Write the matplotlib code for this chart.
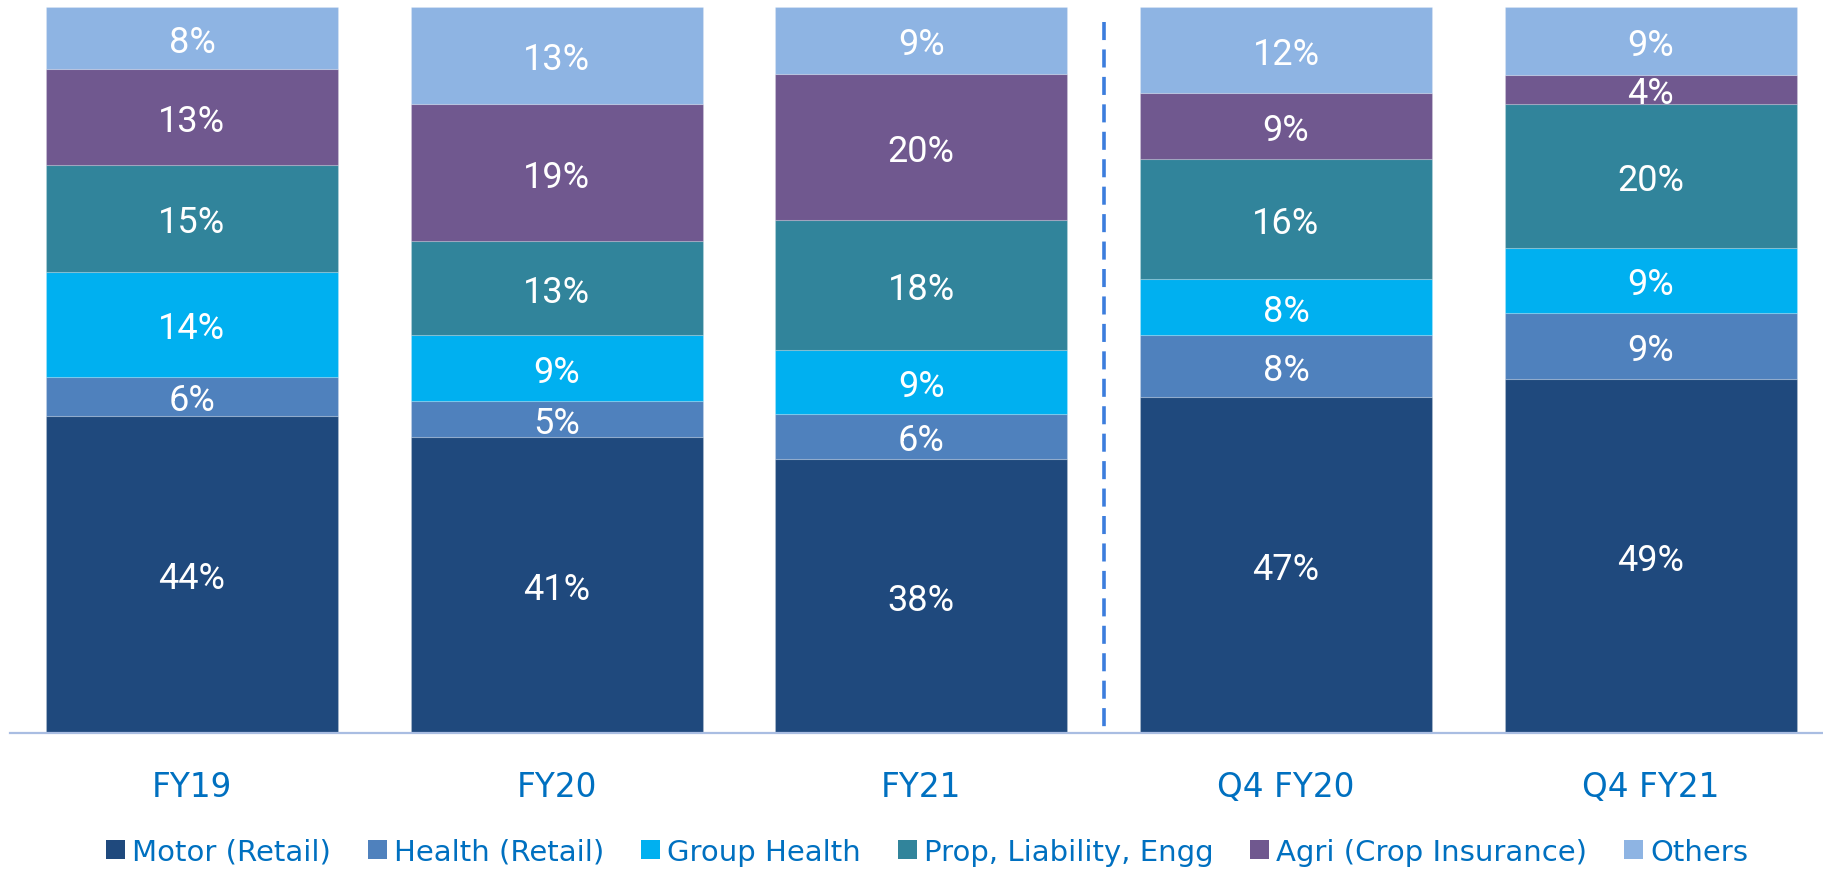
import matplotlib
matplotlib.use("Agg")
import matplotlib.pyplot as plt
from matplotlib.patches import Patch
import numpy as np

categories = ["FY19", "FY20", "FY21", "Q4 FY20", "Q4 FY21"]
series_names = ["Motor (Retail)", "Health (Retail)", "Group Health",
                "Prop, Liability, Engg", "Agri (Crop Insurance)", "Others"]
motor = [43.7, 40.8, 37.8, 46.3, 48.8]
health = [5.4, 4.9, 6.1, 8.5, 9.1]
group_health = [14.4, 9.1, 8.9, 7.8, 8.9]
prop = [14.8, 12.9, 17.9, 16.4, 19.9]
agri = [13.1, 19.0, 20.1, 9.1, 4.0]
others = [8.6, 13.3, 9.2, 11.9, 9.3]
labels_motor = ["44%", "41%", "38%", "47%", "49%"]
labels_health = ["6%", "5%", "6%", "8%", "9%"]
labels_group = ["14%", "9%", "9%", "8%", "9%"]
labels_prop = ["15%", "13%", "18%", "16%", "20%"]
labels_agri = ["13%", "19%", "20%", "9%", "4%"]
labels_others = ["8%", "13%", "9%", "12%", "9%"]

series = [motor, health, group_health, prop, agri, others]
series_labels = [labels_motor, labels_health, labels_group, labels_prop, labels_agri, labels_others]
colors = ["#1F497D", "#4F81BD", "#00B0F0", "#31849B", "#70588F", "#8EB4E3"]

W, H = 1824, 870
fig = plt.figure(figsize=(W / 100, H / 100), dpi=100)
ax_left = 9.6 / W
ax_w = 1823.5 / W
ax_bottom = (H - 734) / H
ax_h = (734 - 8) / H
ax = fig.add_axes([ax_left, ax_bottom, ax_w, ax_h])

x = np.arange(len(categories))
bottom = np.zeros(len(categories))
for vals, labs, col in zip(series, series_labels, colors):
    vals = np.array(vals)
    ax.bar(x, vals, width=0.8, bottom=bottom, color=col,
           edgecolor=(1, 1, 1, 0.18), linewidth=0.8)
    for xi, b, v, lab in zip(x, bottom, vals, labs):
        ax.text(xi, b + v / 2, lab, ha="center", va="center_baseline", color="white",
                fontsize=26, family=["Roboto", "DejaVu Sans"])
    bottom += vals

ax.set_xlim(-0.5, 4.5)
ax.set_ylim(0, 100)
for s in ["top", "right", "left"]:
    ax.spines[s].set_visible(False)
ax.spines["bottom"].set_color("#A9BDE2")
ax.spines["bottom"].set_linewidth(1.6)
ax.set_yticks([])
ax.set_xticks(x)
ax.set_xticklabels(categories, color="#0070C0", fontsize=23.5, family="DejaVu Sans")
ax.tick_params(axis="x", length=0, pad=27)

ax.plot([2.5, 2.5], [98, 0], color="#3C7DDD", linewidth=2.6,
        linestyle=(0, (5, 2.6)), solid_capstyle="butt", dash_capstyle="butt")

handles = [Patch(facecolor=c, edgecolor="none") for c in colors]
leg = fig.legend(handles, series_names, loc="center",
                 bbox_to_anchor=(927 / W, 1 - 853 / H), ncol=6, frameon=False,
                 prop={"family": "DejaVu Sans", "size": 21},
                 handlelength=0.65, handleheight=0.62, handletextpad=0.24,
                 columnspacing=1.27, borderpad=0)
for t in leg.get_texts():
    t.set_color("#0070C0")

fig.savefig("out.png", dpi=100)
